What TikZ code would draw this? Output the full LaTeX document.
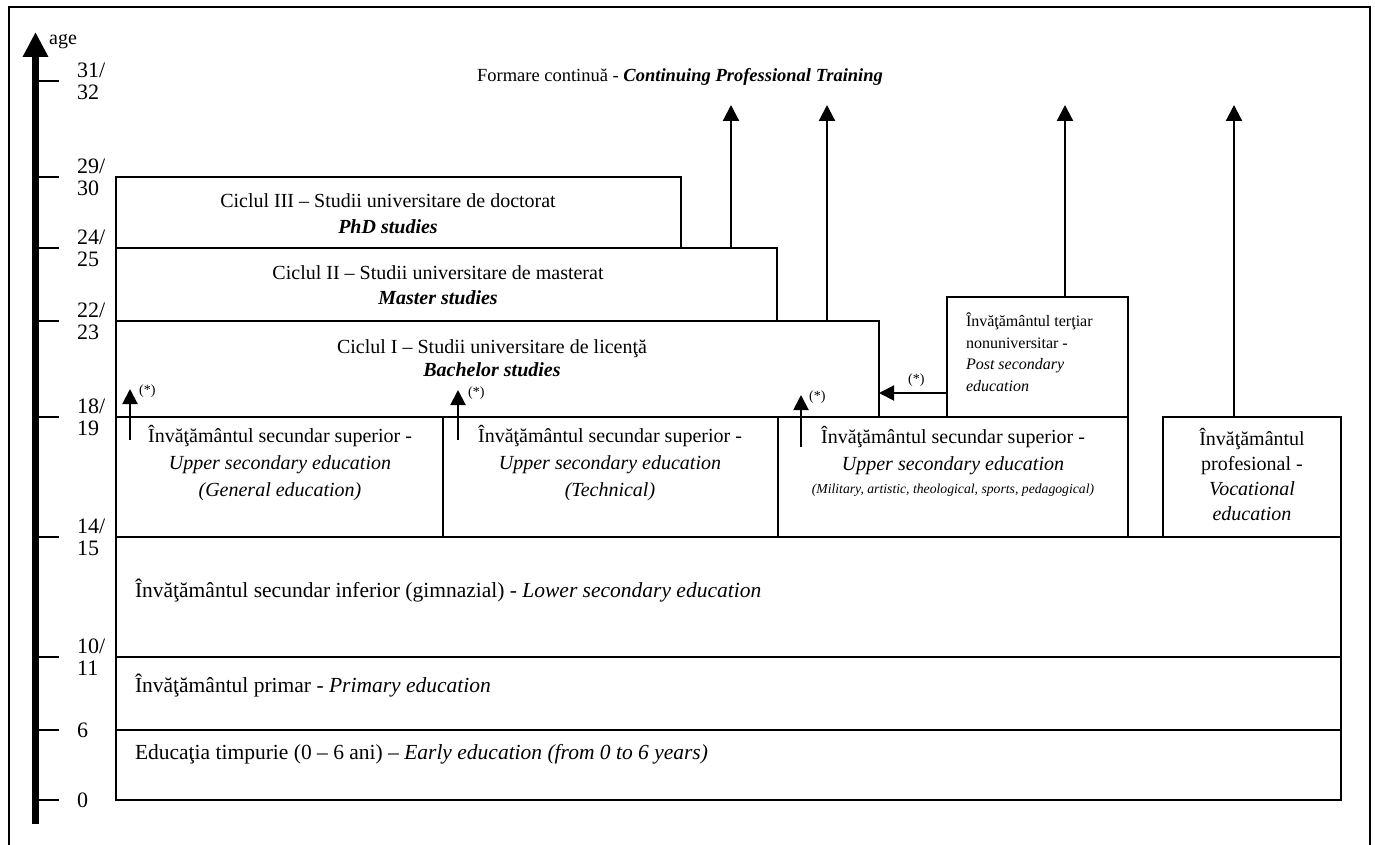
\documentclass[tikz,border=0pt]{standalone}
\usepackage{fontspec}
\setmainfont{Liberation Serif}
\usetikzlibrary{arrows.meta}
\begin{document}
\begin{tikzpicture}[x=1pt,y=-1pt,
  box/.style={draw, line width=1.8pt, inner sep=0pt, outer sep=0pt, anchor=north west},
  txt/.style={inner sep=0pt, outer sep=0pt, align=center},
  ltxt/.style={inner sep=0pt, outer sep=0pt, anchor=west, align=left},
  arr/.style={line width=2.2pt, -{Triangle[width=16pt,length=16pt]}},
  sarr/.style={line width=2pt, -{Triangle[width=15pt,length=15pt]}},
  axtick/.style={line width=2pt},
  agelab/.style={anchor=west, inner sep=0pt, align=left, font=\fontsize{22}{22}\selectfont},
  star/.style={anchor=west, inner sep=0pt, font=\fontsize{14}{14}\selectfont},
]
\useasboundingbox (0,0) rectangle (1375,845);
% frame
\draw[line width=1.2pt] (9,845) -- (9,7) -- (1370,7) -- (1370,845);
% age axis
\coordinate (axbot) at (35.5,824);
\coordinate (axtop) at (35.5,32);
\draw[line width=7.5pt, -{Triangle[width=24pt,length=25pt]}] (axbot) -- (axtop);
\node[anchor=west, inner sep=0pt, font=\fontsize{20}{20}\selectfont] (agel) at (49,42) {age};
\foreach \yy/\lab in {81/{31/\\32},177/{29/\\30},248/{24/\\25},321/{22/\\23},417/{18/\\19},537/{14/\\15},657/{10/\\11},730/{6},800/{0}}{
  \draw[axtick] (38,\yy) -- (59,\yy);
  \node[agelab] at (77,\yy) {\lab};
}
% boxes
\node[box, minimum width=1225pt, minimum height=70pt] (early) at (116,730) {};
\node[box, minimum width=1225pt, minimum height=73pt] (prim) at (116,657) {};
\node[box, minimum width=1225pt, minimum height=120pt] (lower) at (116,537) {};
\node[box, minimum width=327pt, minimum height=120pt] (us1) at (116,417) {};
\node[box, minimum width=335pt, minimum height=120pt] (us2) at (443,417) {};
\node[box, minimum width=350pt, minimum height=120pt] (us3) at (778,417) {};
\node[box, minimum width=178pt, minimum height=120pt] (voc) at (1163,417) {};
\node[box, minimum width=763pt, minimum height=96pt] (bach) at (116,321) {};
\node[box, minimum width=661pt, minimum height=73pt] (mast) at (116,248) {};
\node[box, minimum width=565pt, minimum height=71pt] (phd) at (116,177) {};
\node[box, minimum width=181pt, minimum height=120pt] (tert) at (947,297) {};
% texts
\node[txt, font=\fontsize{18.5}{22}\selectfont] (title) at (680,77) {Formare continuă - \textbf{\textit{Continuing Professional Training}}};
\node[txt, font=\fontsize{20}{26}\selectfont] (phdt) at (388,214) {Ciclul III – Studii universitare de doctorat\\\textbf{\textit{PhD studies}}};
\node[txt, font=\fontsize{20}{25}\selectfont] (mastt) at (438,285) {Ciclul II – Studii universitare de masterat\\\textbf{\textit{Master studies}}};
\node[txt, font=\fontsize{20}{23}\selectfont] (bacht) at (492,358) {Ciclul I – Studii universitare de licenţă\\\textbf{\textit{Bachelor studies}}};
\node[ltxt, font=\fontsize{16}{21.5}\selectfont] (tertt) at (966,352) {Învăţământul terţiar\\nonuniversitar -\\\textit{Post secondary}\\\textit{education}};
\node[txt, font=\fontsize{20}{27}\selectfont] (us1t) at (280,463) {Învăţământul secundar superior -\\\textit{Upper secondary education}\\\textit{(General education)}};
\node[txt, font=\fontsize{20}{27}\selectfont] (us2t) at (610,463) {Învăţământul secundar superior -\\\textit{Upper secondary education}\\\textit{(Technical)}};
\node[txt, font=\fontsize{20}{27}\selectfont] (us3t) at (953,461) {Învăţământul secundar superior -\\\textit{Upper secondary education}\\[-4pt]{\fontsize{13.7}{16}\selectfont\textit{(Military, artistic, theological, sports, pedagogical)}}};
\node[txt, font=\fontsize{20}{25}\selectfont] (voct) at (1252,475) {Învăţământul\\profesional -\\\textit{Vocational}\\\textit{education}};
\node[ltxt, font=\fontsize{21.5}{26}\selectfont] (lowert) at (135,591) {Învăţământul secundar inferior (gimnazial) - \textit{Lower secondary education}};
\node[ltxt, font=\fontsize{21.5}{26}\selectfont] (primt) at (135,686) {Învăţământul primar - \textit{Primary education}};
\node[ltxt, font=\fontsize{21.5}{26}\selectfont] (earlyt) at (135,754) {Educaţia timpurie (0 – 6 ani) – \textit{Early education (from 0 to 6 years)}};
% continuing training arrows
\coordinate (up1) at (731,105);
\coordinate (up2) at (827,105);
\coordinate (up3) at (1065,105);
\coordinate (up4) at (1234,105);
\draw[arr] (up1 |- mast.north) -- (up1);
\draw[arr] (up2 |- bach.north) -- (up2);
\draw[arr] (up3 |- tert.north) -- (up3);
\draw[arr] (up4 |- voc.north) -- (up4);
% (*) access arrows
\coordinate (s1a) at (130,440); \coordinate (s1b) at (130,389);
\coordinate (s2a) at (458,440); \coordinate (s2b) at (458,390);
\coordinate (s3a) at (801,447); \coordinate (s3b) at (801,395);
\draw[sarr] (s1a) -- (s1b);
\draw[sarr] (s2a) -- (s2b);
\draw[sarr] (s3a) -- (s3b);
\coordinate (lta) at (947,393);
\draw[sarr] (lta) -- (lta -| bach.east);
\node[star] (st1) at (139,391) {(*)};
\node[star] (st2) at (468,393) {(*)};
\node[star] (st3) at (809,397) {(*)};
\node[star] (st4) at (908,380) {(*)};
\end{tikzpicture}
\end{document}
